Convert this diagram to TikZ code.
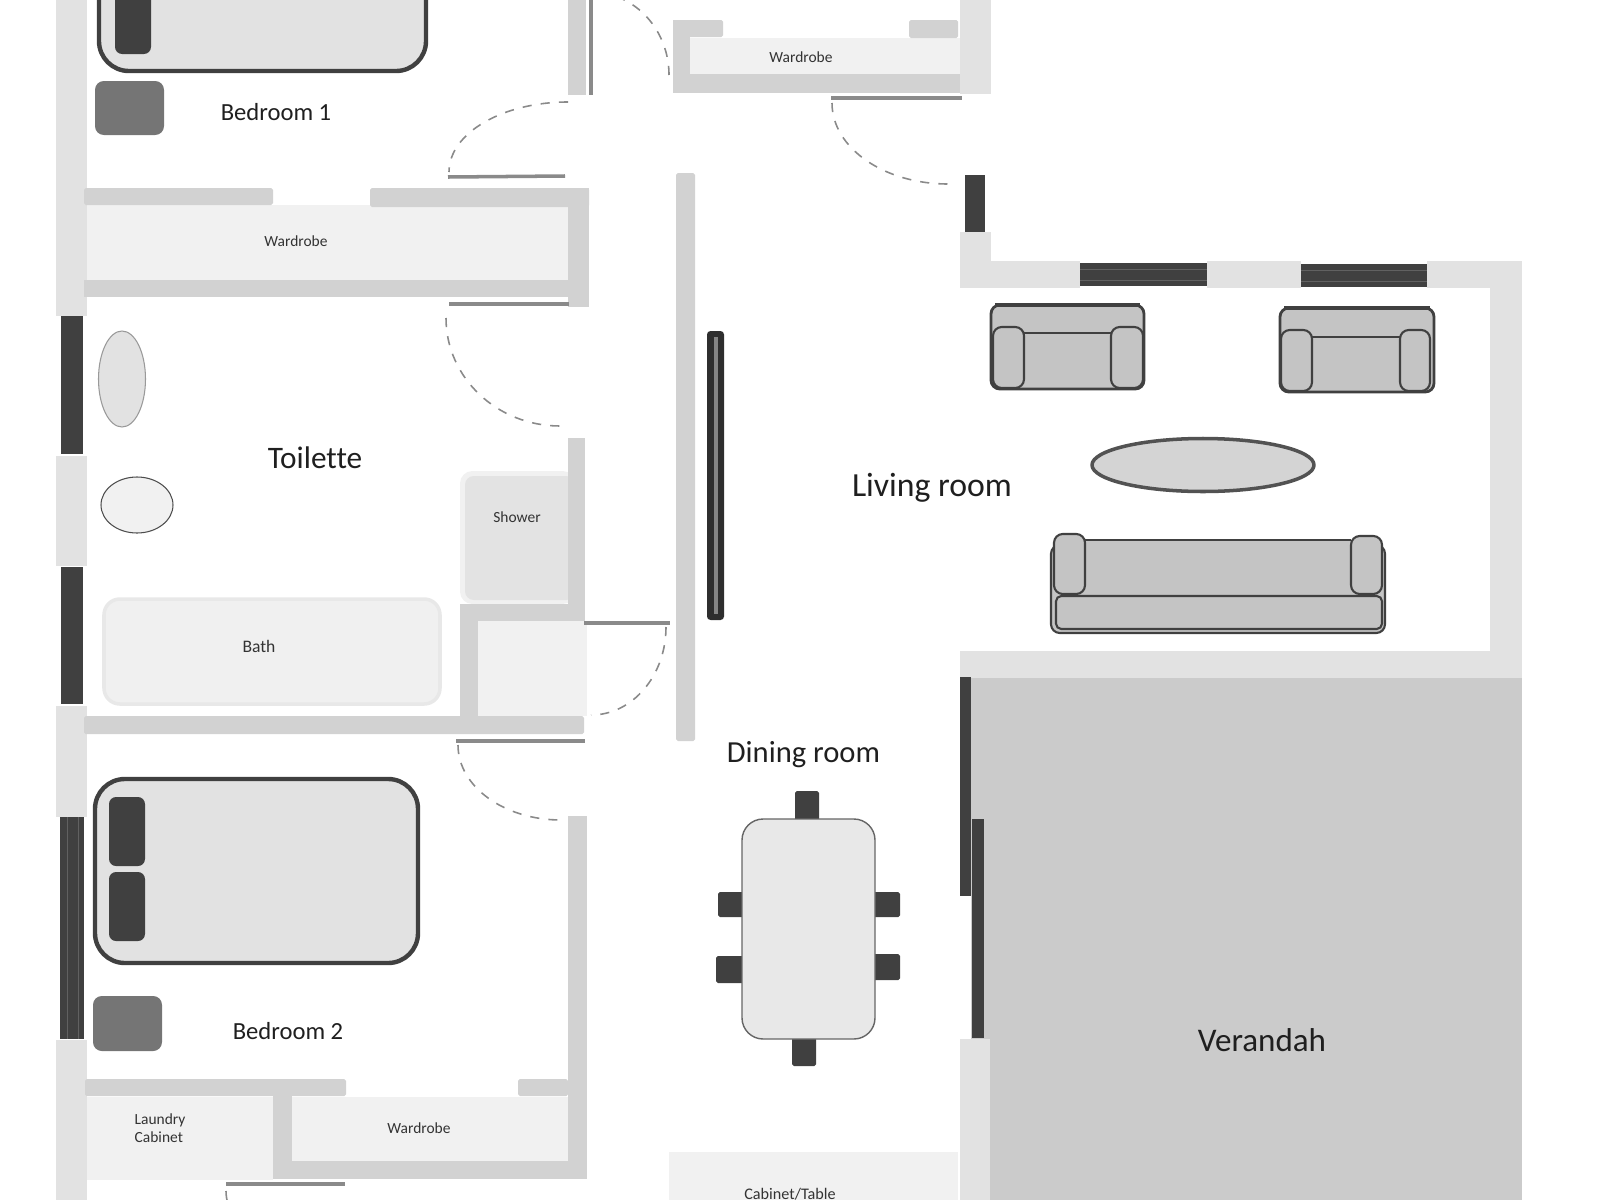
\documentclass[tikz,border=0pt]{standalone}
\usepackage{fontspec}
\setmainfont[Ligatures=NoCommon]{Carlito}
\definecolor{outerwall}{HTML}{E2E2E2}
\definecolor{innerwall}{HTML}{D2D2D2}
\definecolor{cupboard}{HTML}{F1F1F1}
\definecolor{verandahgray}{HTML}{CBCBCB}
\definecolor{darkgray}{HTML}{404040}
\definecolor{doorgray}{HTML}{8A8A8A}
\definecolor{seatgray}{HTML}{C4C4C4}
\tikzset{
	outerw/.style={fill=outerwall,draw=none},
	innerw/.style={fill=innerwall,draw=none},
	store/.style={fill=cupboard,draw=none},
	glazing/.style={fill=darkgray,draw=none},
	glazeline/.style={draw=black!62,line width=0.2pt},
	leaf/.style={draw=doorgray,line width=1pt},
	swing/.style={draw=doorgray,line width=0.45pt,dash pattern=on 2.6pt off 2.6pt},
	bedframe/.style={fill=outerwall,draw=darkgray,line width=1.25pt,rounded corners=8.5pt},
	pillow/.style={fill=darkgray,draw=none,rounded corners=2pt},
	stool/.style={fill=black!54,draw=none,rounded corners=2.5pt},
	chair/.style={fill=darkgray,draw=none,rounded corners=0.5pt},
	seat/.style={fill=seatgray,draw=darkgray,line width=0.6pt,rounded corners=2.5pt},
	seatline/.style={draw=darkgray,line width=0.6pt},
	roomname/.style={inner sep=0pt,text=black!88,font=\fontsize{#1}{#1}\selectfont},
	small/.style={inner sep=0pt,text=black!80,align=left,font=\fontsize{4.4}{5}\selectfont}
}

\begin{document}
\begin{tikzpicture}[x=0.01cm,y=-0.01cm,line cap=butt,line join=round]
	\useasboundingbox (0,0) rectangle (1600,1200);

	% Verandah
	\fill[verandahgray] (971,678) rectangle (1522,1200);

	% Outer walls
	\fill[outerw] (56,0) rectangle (87,316);
	\fill[outerw] (56,456) rectangle (87,566);
	\fill[outerw] (56,706) rectangle (87,817);
	\fill[outerw] (56,1040) rectangle (87,1200);
	\fill[outerw] (960,0) rectangle (991,94);
	\fill[outerw] (960,232) rectangle (991,288);
	\fill[outerw] (960,261) rectangle (1080,288);
	\fill[outerw] (1207,261) rectangle (1301,288);
	\fill[outerw] (1427,261) rectangle (1522,288);
	\fill[outerw] (1490,261) rectangle (1522,678);
	\fill[outerw] (960,651) rectangle (1522,678);
	\fill[outerw] (960,1039) rectangle (990,1200);

	% Windows
	\fill[glazing] (61,316) rectangle (83,454);
	\fill[glazing] (61,567) rectangle (83,704);
	\fill[glazing] (60,817) rectangle (84,1039);
	\draw[glazeline] (67,817) -- (67,1039);
	\draw[glazeline] (78,817) -- (78,1039);
	\fill[glazing] (965,175) rectangle (985,232);
	\fill[glazing] (1080,263) rectangle (1207,286);
	\draw[glazeline] (1080,269) -- (1207,269);
	\draw[glazeline] (1080,280) -- (1207,280);
	\fill[glazing] (1301,264) rectangle (1427,287);
	\draw[glazeline] (1301,270) -- (1427,270);
	\draw[glazeline] (1301,281) -- (1427,281);
	\fill[glazing] (960,677) rectangle (971,896);
	\fill[glazing] (972,819) rectangle (984,1038);

	% Cupboards
	\fill[store] (87,205) rectangle (568,280);
	\fill[store] (690,38) rectangle (960,74);
	\fill[store] (478,621) rectangle (587,716);
	\fill[store] (292,1097) rectangle (568,1161);
	\fill[store] (87,1097) rectangle (273,1180);
	\fill[store] (669,1152) rectangle (958,1200);

	% Shower tray
	\fill[cupboard,rounded corners=3.5pt] (460,471) rectangle (575,604);
	\fill[black!11,rounded corners=2.5pt] (465,476) rectangle (575,600);

	% Inner walls
	\fill[innerw] (568,0) rectangle (586,95);
	\fill[innerw,rounded corners=0.5pt] (84,188) rectangle (273,205);
	\fill[innerw,rounded corners=0.5pt] (370,188) rectangle (589,207);
	\fill[innerw] (568,188) rectangle (589,307);
	\fill[innerw] (84,280) rectangle (589,297);
	\fill[innerw] (673,20) rectangle (690,93);
	\fill[innerw,rounded corners=0.5pt] (673,20) rectangle (723,37);
	\fill[innerw,rounded corners=0.5pt] (909,20) rectangle (958,38);
	\fill[innerw] (673,74) rectangle (960,93);
	\fill[innerw,rounded corners=0.5pt] (676,173) rectangle (695,741);
	\fill[innerw] (568,438) rectangle (585,621);
	\fill[innerw] (460,604) rectangle (585,621);
	\fill[innerw] (460,604) rectangle (478,720);
	\fill[innerw,rounded corners=0.5pt] (84,716) rectangle (584,734);
	\fill[innerw] (568,816) rectangle (587,1179);
	\fill[innerw] (273,1161) rectangle (587,1179);
	\fill[innerw] (273,1090) rectangle (292,1179);
	\fill[innerw,rounded corners=0.5pt] (85,1079) rectangle (346,1096);
	\fill[innerw,rounded corners=0.5pt] (518,1079) rectangle (568,1096);

	% Door leaves
	\draw[leaf] (591,0) -- (591,95);
	\draw[leaf] (448,177) -- (565,176);
	\draw[leaf] (449,304) -- (569,304);
	\draw[leaf] (831,98) -- (962,98);
	\draw[leaf] (584,623) -- (670,623);
	\draw[leaf] (456,741) -- (585,741);
	\draw[leaf] (226,1184) -- (345,1184);

	% Door swings
	\draw[swing] (568,102) arc[start angle=270,end angle=180,x radius=119,y radius=70];
	\draw[swing] (446,318) arc[start angle=180,end angle=90,x radius=114,y radius=108];
	\draw[swing] (669,75) arc[start angle=0,end angle=-70,x radius=78,y radius=83];
	\draw[swing] (832,103) arc[start angle=180,end angle=90,x radius=116,y radius=81];
	\draw[swing] (666,627) arc[start angle=0,end angle=90,x radius=75,y radius=88];
	\draw[swing] (458,745) arc[start angle=180,end angle=90,x radius=103,y radius=75];
	\draw[swing] (226,1191) arc[start angle=180,end angle=90,x radius=119,y radius=70];

	% TV
	\fill[fill=black!82,rounded corners=1pt] (707,331) rectangle (724,620);
	\fill[black!48] (714,337) rectangle (718,614);

	% Bedroom 1
	\draw[bedframe] (99,-40) rectangle (426,71);
	\fill[pillow] (115,-20) rectangle (151,54);
	\fill[stool] (95,81) rectangle (164,135);

	% Bedroom 2
	\draw[bedframe] (95,779) rectangle (418,963);
	\fill[pillow] (109,797) rectangle (145,866);
	\fill[pillow] (109,872) rectangle (145,941);
	\fill[stool] (93,996) rectangle (162,1051);

	% Toilette
	\draw[fill=outerwall,draw=black!40,line width=0.3pt] (122,379) ellipse [x radius=23.5,y radius=48];
	\draw[fill=cupboard,draw=black!70,line width=0.3pt] (137,505) ellipse [x radius=36,y radius=28];
	\draw[fill=black!6,draw=black!9,line width=1pt,rounded corners=4.5pt] (104,599) rectangle (440,704);

	% Dining table
	\fill[chair] (795,791) rectangle (819,825);
	\fill[chair] (792,1033) rectangle (816,1066);
	\fill[chair] (718,892) rectangle (748,917);
	\fill[chair] (716,956) rectangle (748,983);
	\fill[chair] (870,892) rectangle (900,917);
	\fill[chair] (870,954) rectangle (900,980);
	\draw[fill=black!9,draw=black!60,line width=0.4pt,rounded corners=6pt] (742,819) rectangle (875,1039);

	% Armchairs
	\draw[seat,line width=0.8pt] (991,305) rectangle (1144,389);
	\draw[seatline,line width=1.1pt] (995,305) -- (1140,305);
	\draw[seatline] (1024,333) -- (1111,333);
	\draw[seat] (993,327) rectangle (1024,388);
	\draw[seat] (1111,327) rectangle (1143,388);
	\draw[seat,line width=0.8pt] (1280,308) rectangle (1434,392);
	\draw[seatline,line width=1.1pt] (1284,308) -- (1430,308);
	\draw[seatline] (1312,337) -- (1400,337);
	\draw[seat] (1281,330) rectangle (1312,391);
	\draw[seat] (1400,330) rectangle (1430,391);

	% Coffee table
	\draw[fill=black!17,draw=black!68,line width=1pt] (1203,465) ellipse [x radius=111,y radius=26.5];

	% Sofa
	\draw[seat] (1051,545) rectangle (1385,633);
	\draw[seatline] (1085,540) -- (1351,540);
	\fill[seatgray] (1085,541) rectangle (1351,596);
	\draw[seat] (1054,534) rectangle (1085,594);
	\draw[seat] (1351,536) rectangle (1382,594);
	\draw[seat,rounded corners=1.5pt] (1056,596) rectangle (1382,629);

	% Labels
	\node[roomname=7] (bedroomone) at (276,112) {Bedroom 1};
	\node[roomname=7] (bedroomtwo) at (288,1031) {Bedroom 2};
	\node[roomname=8.9] (toilette) at (315,458) {Toilette};
	\node[roomname=9.6] (livingroom) at (932,488) {Living room};
	\node[roomname=8.7] (diningroom) at (803.5,755) {Dining room};
	\node[roomname=9.4] (verandah) at (1262,1040) {Verandah};
	\node[small] (wardrobeone) at (296,241) {Wardrobe};
	\node[small] (wardrobetwo) at (801,57) {Wardrobe};
	\node[small] (wardrobethree) at (419,1128) {Wardrobe};
	\node[small] (shower) at (517,517) {Shower};
	\node[small,font=\fontsize{5}{6}\selectfont] (bath) at (259,646) {Bath};
	\node[small,anchor=west] (laundry) at (134,1128) {Laundry\\Cabinet};
	\node[small,font=\fontsize{4.6}{5}\selectfont] (cabinet) at (790,1194) {Cabinet/Table};
\end{tikzpicture}
\end{document}
